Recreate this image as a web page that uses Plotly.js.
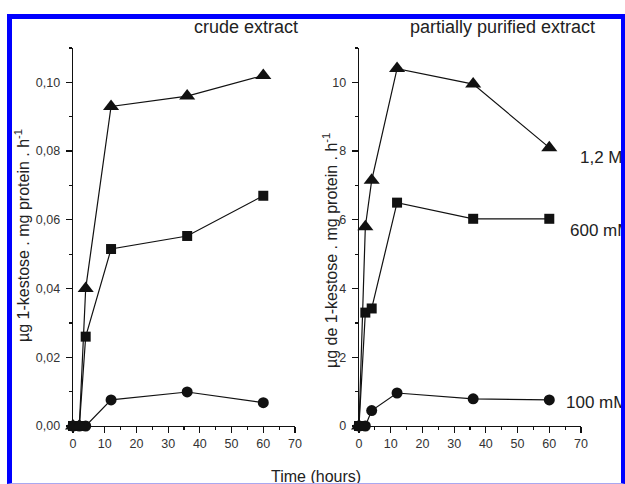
<!DOCTYPE html>
<html>
<head>
<meta charset="utf-8">
<script src="https://cdn.plot.ly/plotly-3.0.1.min.js"></script>
<style>
  html, body { margin: 0; padding: 0; background: #fff; overflow: hidden; }
  #wrap { position: relative; width: 625px; height: 484px; }
  #chart { position: absolute; left: 0; top: 0; width: 625px; height: 484px; }
  #frame {
    position: absolute; left: 7px; top: 14px; right: 0; bottom: 0;
    border-top: 5px solid #0000ff; border-left: 5px solid #0000ff;
    border-right: 4px solid #0000ff; border-bottom: 1px solid #a8a8f0;
    pointer-events: none; box-sizing: border-box;
  }
</style>
</head>
<body>
<div id="wrap">
  <div id="chart"></div>
  <div id="frame"></div>
</div>
<script>
// ---- data ----
const timeHours = [0, 2, 4, 12, 36, 60];

const crude1200mM = [0, 0, 0.040, 0.093, 0.096, 0.102];
const crude600mM  = [0, 0, 0.026, 0.0515, 0.0553, 0.067];
const crude100mM  = [0, 0, 0, 0.0076, 0.0099, 0.0068];

const purified1200mM = [0, 5.8, 7.15, 10.4, 9.95, 8.1];
const purified600mM  = [0, 3.3, 3.42, 6.5, 6.03, 6.03];
const purified100mM  = [0, 0, 0.45, 0.96, 0.79, 0.76];

const seriesLabels = ['1,2 M', '600 mM', '100 mM'];
const panelTitles = ['crude extract', 'partially purified extract'];
const xTitle = 'Time (hours)';
const yTitleLeft = 'µg 1-kestose . mg protein . h<sup>-1</sup>';
const yTitleRight = 'µg de 1-kestose . mg protein . h<sup>-1</sup>';

// ---- helpers ----
const W = 625, H = 484;
const px = v => v / W;
const py = v => 1 - v / H;
const FONT = 'Liberation Sans, Arial, sans-serif';

function series(x, y, symbol, size, xa, ya) {
  return {
    x: x, y: y, xaxis: xa, yaxis: ya,
    type: 'scatter', mode: 'lines+markers',
    line: {color: '#111', width: 1.2},
    marker: {symbol: symbol, size: size, color: '#111'},
    cliponaxis: false, showlegend: false, hoverinfo: 'x+y'
  };
}

const traces = [
  series(timeHours, crude100mM, 'circle', 11, 'x', 'y'),
  series(timeHours, crude600mM, 'square', 10, 'x', 'y'),
  series(timeHours, crude1200mM, 'triangle-up', 14, 'x', 'y'),
  series(timeHours, purified100mM, 'circle', 11, 'x2', 'y2'),
  series(timeHours, purified600mM, 'square', 10, 'x2', 'y2'),
  series(timeHours, purified1200mM, 'triangle-up', 14, 'x2', 'y2')
];

const axisCommon = {
  showgrid: false, zeroline: false, showline: true,
  linecolor: '#111', linewidth: 1.3,
  ticks: 'outside', ticklen: 6, tickwidth: 1.2, tickcolor: '#111',
  tickfont: {family: FONT, size: 12.5, color: '#333'},
  fixedrange: true
};

const xAxisBase = Object.assign({}, axisCommon, {
  range: [0, 70], dtick: 10, tick0: 0,
  minor: {dtick: 5, ticks: 'outside', ticklen: 3, tickcolor: '#111', tickwidth: 1.2}
});

const labelFont = {size: 17, color: '#222'};

const layout = {
  width: W, height: H,
  margin: {l: 0, r: 0, t: 0, b: 0},
  paper_bgcolor: '#fff', plot_bgcolor: 'rgba(0,0,0,0)',
  separators: ', ',
  font: {family: FONT, color: '#222'},
  showlegend: false,
  xaxis: Object.assign({}, xAxisBase, {domain: [px(73), px(295)], anchor: 'y'}),
  xaxis2: Object.assign({}, xAxisBase, {domain: [px(359), px(581)], anchor: 'y2'}),
  yaxis: Object.assign({}, axisCommon, {
    domain: [py(426), py(48)], anchor: 'x',
    range: [0, 0.11], dtick: 0.02, tick0: 0, tickformat: '.2f', ticklabelstandoff: 3,
    minor: {dtick: 0.01, ticks: 'outside', ticklen: 3, tickcolor: '#111', tickwidth: 1.2}
  }),
  yaxis2: Object.assign({}, axisCommon, {
    domain: [py(426), py(48)], anchor: 'x2',
    range: [0, 11], dtick: 2, tick0: 0, ticklabelstandoff: 3,
    minor: {dtick: 1, ticks: 'outside', ticklen: 3, tickcolor: '#111', tickwidth: 1.2}
  }),
  annotations: [
    {text: panelTitles[0], xref: 'paper', yref: 'paper', x: px(246.5), y: py(27),
     xanchor: 'center', yanchor: 'middle', showarrow: false, font: {size: 18, color: '#222'}},
    {text: panelTitles[1], xref: 'paper', yref: 'paper', x: px(502.5), y: py(27),
     xanchor: 'center', yanchor: 'middle', showarrow: false, font: {size: 18, color: '#222'}},
    {text: yTitleLeft, xref: 'paper', yref: 'paper', x: px(22), y: py(236), textangle: -90,
     xanchor: 'center', yanchor: 'middle', showarrow: false, font: {size: 16, color: '#222'}},
    {text: yTitleRight, xref: 'paper', yref: 'paper', x: px(330), y: py(251), textangle: -90,
     xanchor: 'center', yanchor: 'middle', showarrow: false, font: {size: 16, color: '#222'}},
    {text: xTitle, xref: 'paper', yref: 'paper', x: px(316), y: py(476.5),
     xanchor: 'center', yanchor: 'middle', showarrow: false, font: {size: 16, color: '#222'}},
    {text: seriesLabels[0], xref: 'paper', yref: 'paper', x: px(578), y: py(157),
     xanchor: 'left', yanchor: 'middle', showarrow: false, font: labelFont},
    {text: seriesLabels[1], xref: 'paper', yref: 'paper', x: px(568), y: py(230),
     xanchor: 'left', yanchor: 'middle', showarrow: false, font: labelFont},
    {text: seriesLabels[2], xref: 'paper', yref: 'paper', x: px(564), y: py(402),
     xanchor: 'left', yanchor: 'middle', showarrow: false, font: labelFont}
  ]
};

Plotly.newPlot('chart', traces, layout, {displayModeBar: false, staticPlot: true});
</script>
</body>
</html>
